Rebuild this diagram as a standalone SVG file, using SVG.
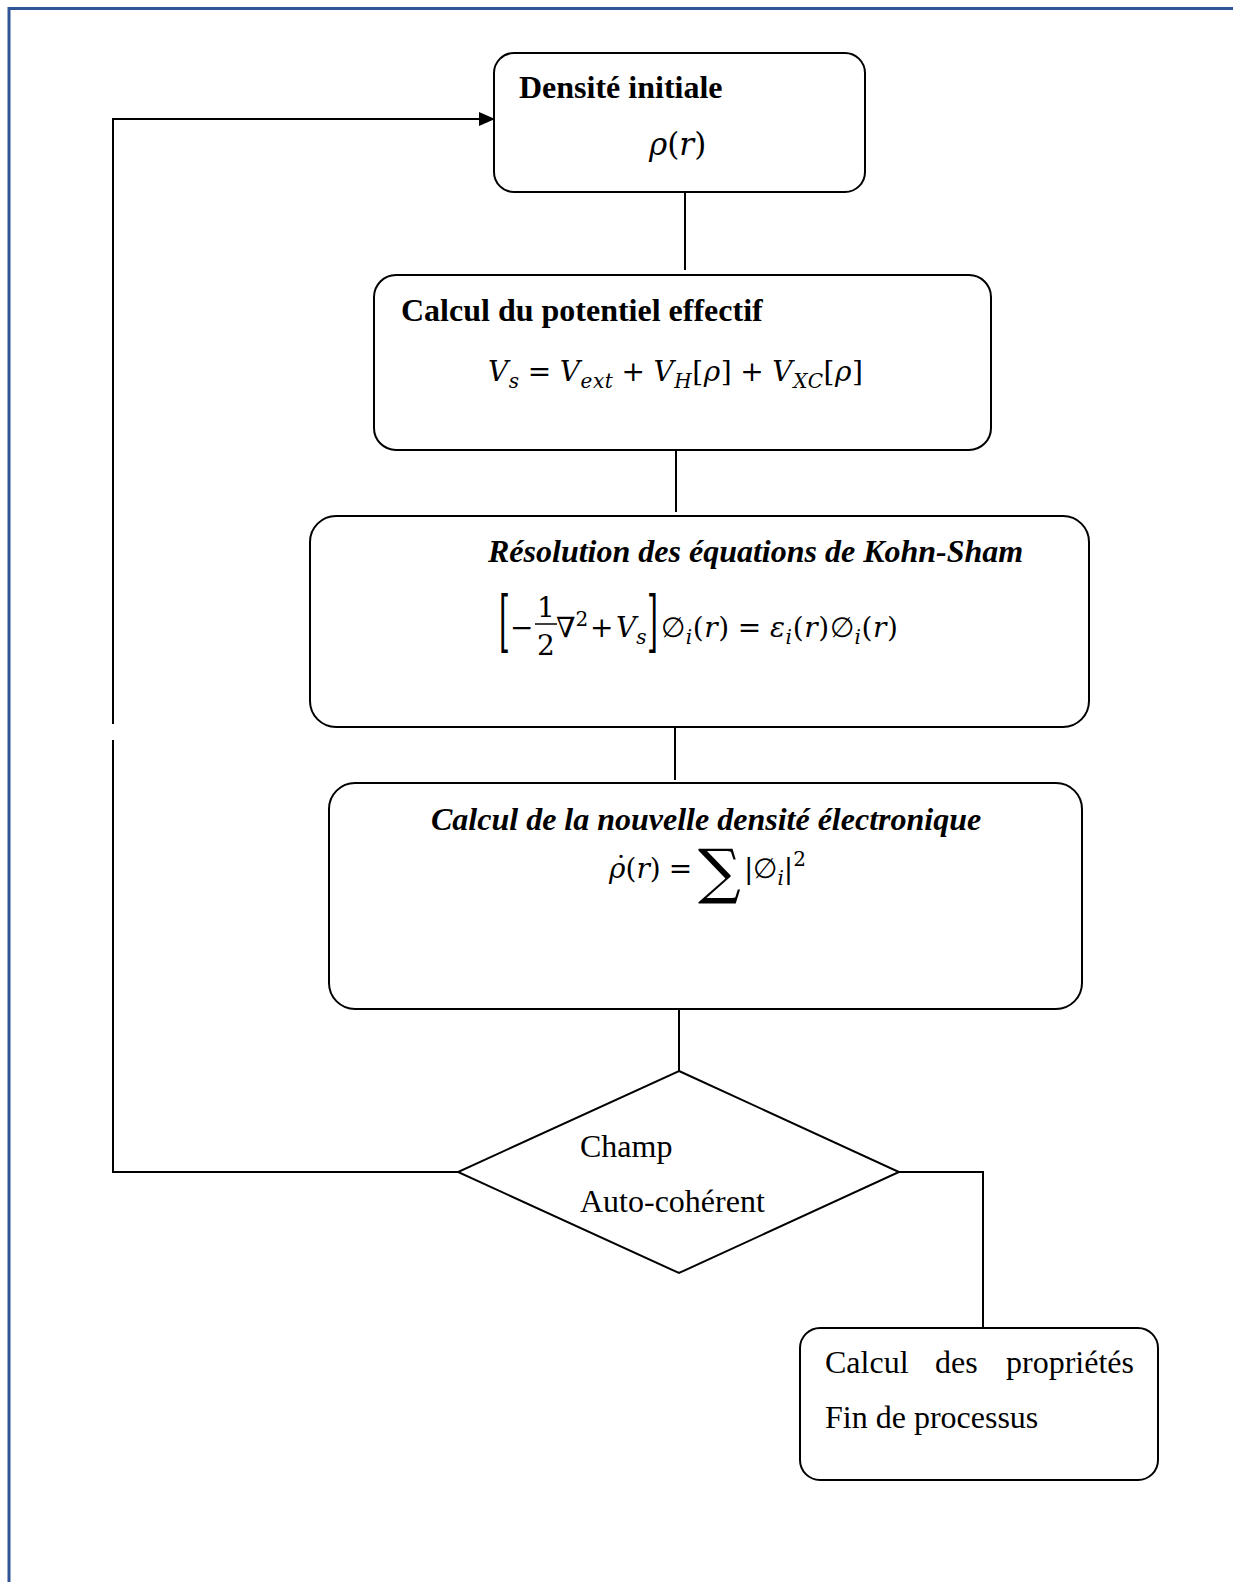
<svg xmlns="http://www.w3.org/2000/svg" width="1233" height="1582" viewBox="0 0 1233 1582">
  <defs>
    <style>
      .box { fill: #fff; stroke: #000; stroke-width: 2; }
      .edge { fill: none; stroke: #000; stroke-width: 2; }
      .frame { fill: none; stroke: #2F5597; stroke-width: 3; }
      .t { font-family: "Liberation Serif", "Times New Roman", serif; font-size: 32px; fill: #000; }
      .b { font-weight: bold; }
      .bi { font-weight: bold; font-style: italic; }
      .eq { font-family: "DejaVu Serif", "Liberation Serif", serif; font-size: 28px; font-style: italic; fill: #000; }
      .up { font-style: normal; }
      .sb { font-size: 20px; }
    </style>
    <marker id="arrow" markerWidth="16" markerHeight="14" refX="15" refY="7" orient="auto" markerUnits="userSpaceOnUse">
      <path d="M0,0 L16,7 L0,14 Z" fill="#000"/>
    </marker>
  </defs>

  <rect width="1233" height="1582" fill="#fff"/>

  <!-- page frame (top and left edges) -->
  <path class="frame" d="M9,1582 L9,8.5 L1233,8.5"/>

  <!-- connectors -->
  <g id="connectors">
    <line class="edge" x1="685" y1="192" x2="685" y2="270"/>
    <line class="edge" x1="676" y1="450" x2="676" y2="512"/>
    <line class="edge" x1="675" y1="727" x2="675" y2="780"/>
    <line class="edge" x1="679" y1="1009" x2="679" y2="1071"/>
    <!-- loop back to the initial density -->
    <path class="edge" d="M458,1172 L113,1172 L113,740"/>
    <path class="edge" d="M113,724 L113,119 L494,119" marker-end="url(#arrow)"/>
    <!-- converged branch -->
    <path class="edge" d="M899,1172 L983,1172 L983,1328"/>
  </g>

  <!-- initial density -->
  <g id="node-densite-initiale">
    <rect class="box" x="494" y="53" width="371" height="139" rx="20"/>
    <text class="t b" x="519" y="98">Densité initiale</text>
    <text class="eq" x="649" y="155" style="font-size:31px">ρ<tspan class="up">(</tspan>r<tspan class="up">)</tspan></text>
  </g>

  <!-- effective potential -->
  <g id="node-potentiel-effectif">
    <rect class="box" x="374" y="275" width="617" height="175" rx="22"/>
    <text class="t b" x="401" y="321">Calcul du potentiel effectif</text>
    <text class="eq" x="488" y="381" textLength="375" lengthAdjust="spacing">V<tspan class="sb" dy="7">s</tspan><tspan class="up" dy="-7" dx="8">=</tspan><tspan dx="8">V</tspan><tspan class="sb" dy="7">ext</tspan><tspan class="up" dy="-7" dx="8">+</tspan><tspan dx="8">V</tspan><tspan class="sb" dy="7">H</tspan><tspan class="up" dy="-7">[</tspan>ρ<tspan class="up">]</tspan><tspan class="up" dx="8">+</tspan><tspan dx="8">V</tspan><tspan class="sb" dy="7">XC</tspan><tspan class="up" dy="-7">[</tspan>ρ<tspan class="up">]</tspan></text>
  </g>

  <!-- Kohn-Sham equations -->
  <g id="node-kohn-sham">
    <rect class="box" x="310" y="516" width="779" height="211" rx="26"/>
    <text class="t bi" x="488" y="562">Résolution des équations de Kohn-Sham</text>
    <text class="eq up" transform="translate(499,644) scale(1,2.4)">[</text>
    <text class="eq up" x="510" y="637">−</text>
    <text class="eq up" x="546" y="617" text-anchor="middle">1</text>
    <line x1="535" y1="624" x2="557" y2="624" stroke="#000" stroke-width="1.5"/>
    <text class="eq up" x="546" y="655" text-anchor="middle">2</text>
    <text class="eq up" x="556" y="637">∇<tspan class="sb" dy="-11">2</tspan></text>
    <text class="eq up" x="590" y="637">+</text>
    <text class="eq" x="616" y="637">V<tspan class="sb" dy="7">s</tspan></text>
    <text class="eq up" transform="translate(647,644) scale(1,2.4)">]</text>
    <text class="eq" x="661" y="637" textLength="237" lengthAdjust="spacing"><tspan class="up">∅</tspan><tspan class="sb" dy="7">i</tspan><tspan class="up" dy="-7">(</tspan>r<tspan class="up">)</tspan><tspan class="up" dx="8">=</tspan><tspan dx="8">ε</tspan><tspan class="sb" dy="7">i</tspan><tspan class="up" dy="-7">(</tspan>r<tspan class="up">)∅</tspan><tspan class="sb" dy="7">i</tspan><tspan class="up" dy="-7">(</tspan>r<tspan class="up">)</tspan></text>
  </g>

  <!-- new electron density -->
  <g id="node-nouvelle-densite">
    <rect class="box" x="329" y="783" width="753" height="226" rx="26"/>
    <text class="t bi" x="431" y="830">Calcul de la nouvelle densité électronique</text>
    <text class="eq" x="609" y="878">ρ<tspan class="up">(</tspan>r<tspan class="up">)</tspan><tspan class="up" dx="8">=</tspan></text>
    <text class="eq up" x="621" y="876" text-anchor="middle">˙</text>
    <text class="eq up" x="698" y="892" style="font-size:60px">∑</text>
    <text class="eq" x="744" y="878"><tspan class="up">|∅</tspan><tspan class="sb" dy="7">i</tspan><tspan class="up" dy="-7">|</tspan><tspan class="sb up" dy="-12">2</tspan></text>
  </g>

  <!-- self-consistency test -->
  <g id="node-champ-auto-coherent">
    <polygon class="box" points="679,1071 899,1172 679,1273 458,1172"/>
    <text class="t" x="580" y="1157">Champ</text>
    <text class="t" x="580" y="1212">Auto-cohérent</text>
  </g>

  <!-- end of process -->
  <g id="node-fin">
    <rect class="box" x="800" y="1328" width="358" height="152" rx="20"/>
    <text class="t" y="1373"><tspan x="825">Calcul</tspan><tspan x="935">des</tspan><tspan x="1006">propriétés</tspan></text>
    <text class="t" x="825" y="1428">Fin de processus</text>
  </g>
</svg>
